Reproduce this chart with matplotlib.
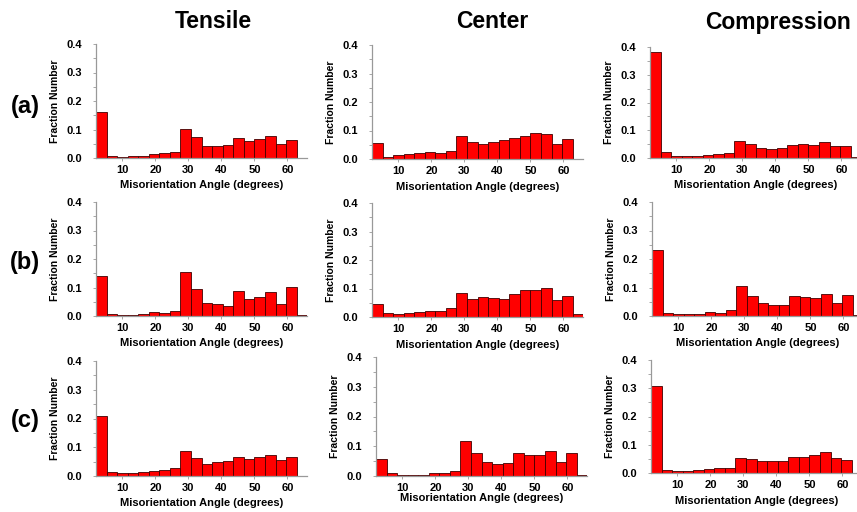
import matplotlib
matplotlib.use("Agg")
from matplotlib import pyplot as plt
import numpy as np

plt.rcParams['font.family'] = ['Liberation Sans', 'DejaVu Sans']
plt.rcParams['font.weight'] = 'bold'

# misorientation bins: 2 deg start, 3.2 deg wide
bin_start = 2.0
bin_width = 3.2

columns = ['Tensile', 'Center', 'Compression']
rows = ['(a)', '(b)', '(c)']

tensile_a = [0.163, 0.007, 0.005, 0.006, 0.008, 0.015, 0.018, 0.022, 0.103, 0.075,
             0.043, 0.043, 0.047, 0.069, 0.061, 0.066, 0.077, 0.048, 0.064, 0.0]
center_a = [0.055, 0.007, 0.014, 0.016, 0.020, 0.024, 0.021, 0.029, 0.079, 0.060,
            0.052, 0.060, 0.065, 0.074, 0.079, 0.090, 0.086, 0.052, 0.069, 0.0]
compression_a = [0.382, 0.020, 0.007, 0.009, 0.008, 0.012, 0.015, 0.018, 0.061, 0.052,
                 0.036, 0.034, 0.035, 0.048, 0.052, 0.048, 0.059, 0.042, 0.045, 0.002]

tensile_b = [0.141, 0.006, 0.004, 0.002, 0.007, 0.013, 0.012, 0.019, 0.153, 0.094,
             0.045, 0.043, 0.036, 0.087, 0.059, 0.065, 0.085, 0.041, 0.102, 0.003]
center_b = [0.047, 0.014, 0.012, 0.015, 0.016, 0.022, 0.022, 0.030, 0.084, 0.062,
            0.070, 0.068, 0.062, 0.082, 0.096, 0.096, 0.102, 0.059, 0.072, 0.012]
compression_b = [0.231, 0.012, 0.007, 0.007, 0.007, 0.013, 0.011, 0.020, 0.104, 0.069,
                 0.045, 0.039, 0.040, 0.069, 0.065, 0.062, 0.076, 0.046, 0.072, 0.005]

tensile_c = [0.208, 0.014, 0.009, 0.009, 0.013, 0.017, 0.020, 0.028, 0.086, 0.062,
             0.043, 0.050, 0.052, 0.065, 0.058, 0.066, 0.072, 0.057, 0.065, 0.0]
center_c = [0.057, 0.009, 0.004, 0.004, 0.004, 0.011, 0.009, 0.018, 0.117, 0.076,
            0.047, 0.040, 0.043, 0.076, 0.071, 0.069, 0.084, 0.048, 0.078, 0.003]
compression_c = [0.308, 0.012, 0.006, 0.008, 0.012, 0.015, 0.018, 0.016, 0.054, 0.048,
                 0.041, 0.041, 0.041, 0.055, 0.058, 0.065, 0.074, 0.052, 0.045, 0.0]

data = [[tensile_a, center_a, compression_a],
        [tensile_b, center_b, compression_b],
        [tensile_c, center_c, compression_c]]

W, H = 857, 512
fig = plt.figure(figsize=(W / 100, H / 100), dpi=100)

# pixel boxes: left, y of 0.4, y of 0.0
boxes = [[(96, 44, 158), (372, 45, 159), (650, 47, 158)],
         [(96, 202, 316), (372, 203, 317), (652, 202, 316)],
         [(96, 361, 476), (376, 357, 476), (651, 360, 473)]]
xlabel_pad = [[4, 4, 4], [4, 4, 4], [4, 0, 4]]
deg_px = 3.3
x_max = 66

for r in range(3):
    for c in range(3):
        left, top, bottom = boxes[r][c]
        width = (x_max - bin_start) * deg_px
        ax = fig.add_axes([left / W, 1 - bottom / H, width / W, (bottom - top) / H])
        vals = data[r][c]
        edges = bin_start + bin_width * np.arange(len(vals))
        ax.bar(edges, vals, width=bin_width, align='edge', color='#ff0000',
               edgecolor='#400000', linewidth=0.6)
        ax.set_xlim(bin_start, x_max)
        ax.set_ylim(0, 0.4)
        ax.set_xticks([10, 20, 30, 40, 50, 60])
        ax.set_yticks([0.0, 0.1, 0.2, 0.3, 0.4])
        ax.set_yticklabels(['0.0', '0.1', '0.2', '0.3', '0.4'])
        ax.set_yticks([0.05, 0.15, 0.25, 0.35], minor=True)
        for s in ['top', 'right']:
            ax.spines[s].set_visible(False)
        for s in ['left', 'bottom']:
            ax.spines[s].set_color('#999999')
            ax.spines[s].set_linewidth(0.9)
        ax.tick_params(axis='both', which='both', length=2, width=0.6, color='#999999',
                       labelsize=8, pad=3)
        ax.tick_params(axis='y', which='major', pad=8)
        for lab in ax.get_xticklabels() + ax.get_yticklabels():
            lab.set_fontweight('bold')
        ax.set_ylabel('Fraction Number', fontsize=7.5, fontweight='bold', labelpad=5)
        ax.set_xlabel('Misorientation Angle (degrees)', fontsize=8, fontweight='bold',
                      labelpad=xlabel_pad[r][c])

col_x = [213, 492, 778]
for name, x in zip(columns, col_x):
    fig.text(x / W, 1 - 22 / H, name, fontsize=16.5, fontweight='heavy',
             ha='center', va='center')

row_y = [106, 263, 420]
for name, y in zip(rows, row_y):
    fig.text(25 / W, 1 - y / H, name, fontsize=17, fontweight='bold',
             ha='center', va='center')

fig.savefig('out.png', dpi=100)
